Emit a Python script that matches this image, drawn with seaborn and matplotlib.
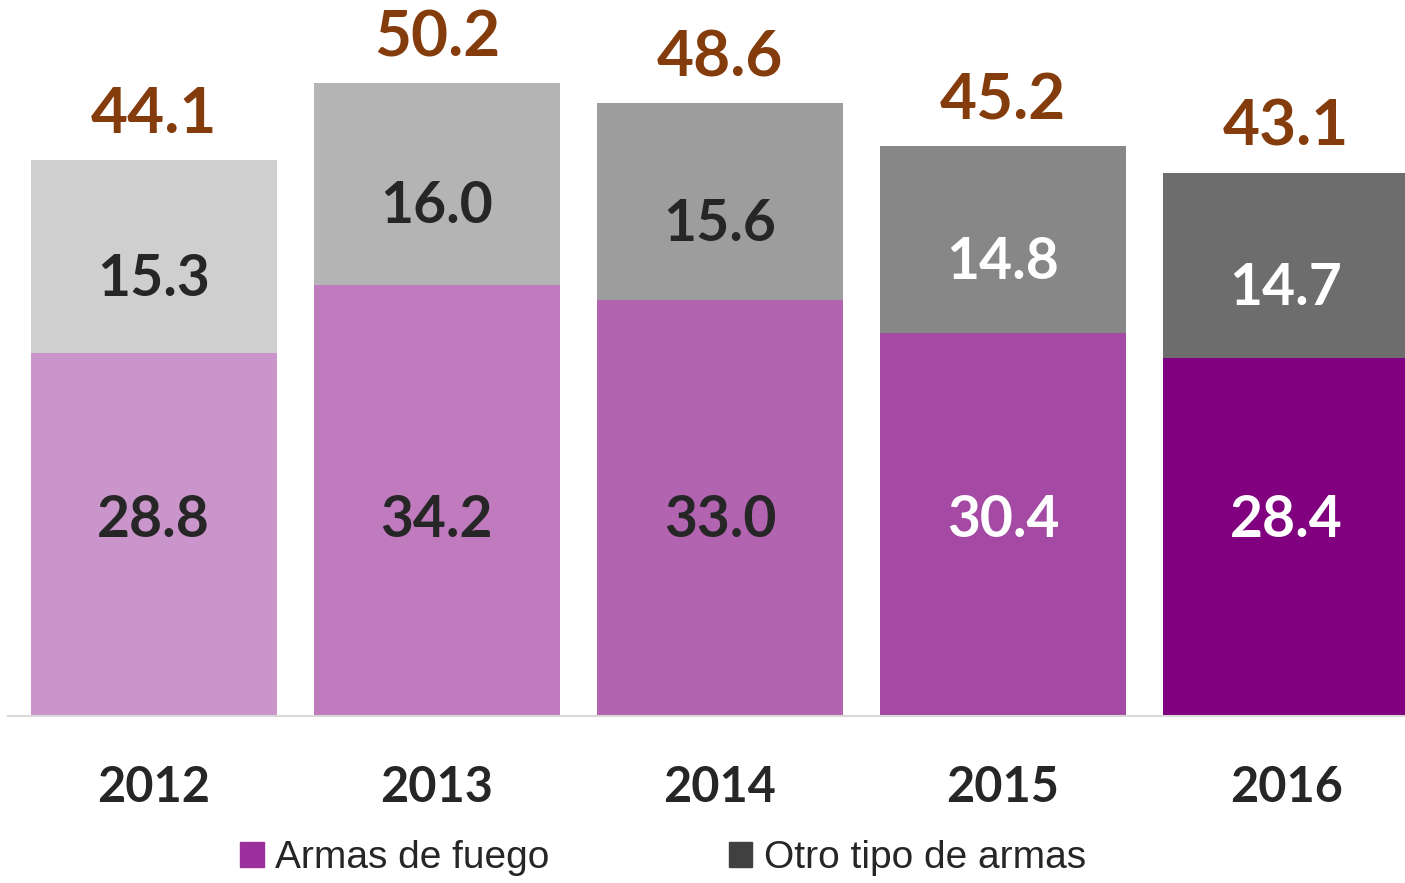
import numpy as np
import pandas as pd
import matplotlib
matplotlib.use("Agg")
import matplotlib.pyplot as plt
import seaborn as sns
from matplotlib.patches import Patch

years = ["2012", "2013", "2014", "2015", "2016"]
armas_fuego = [28.8, 34.2, 33.0, 30.4, 28.4]
otro_tipo = [15.3, 16.0, 15.6, 14.8, 14.7]
totales = [44.1, 50.2, 48.6, 45.2, 43.1]

purples = ["#C995CA", "#BF7BBD", "#B264B1", "#A44AA4", "#800080"]
greys = ["#CFCFCF", "#B4B4B4", "#9D9D9D", "#878787", "#6D6D6D"]
text_cols = ["#262626", "#262626", "#262626", "white", "white"]

df = pd.DataFrame({"year": years, "fuego": armas_fuego, "otro": otro_tipo, "total": totales})
df["stack"] = df["fuego"] + df["otro"]

sns.set_theme(style="white")
plt.rcParams["font.family"] = ["Lato", "DejaVu Sans"]

fig = plt.figure(figsize=(14.05, 8.83), dpi=100)
ax = fig.add_axes([8 / 1405, 1 - 716 / 883, 1 - 8 / 1405, 716 / 883])

# grey bar = whole stack, purple bar drawn over the bottom part
sns.barplot(data=df, x="year", y="stack", hue="year", palette=greys, width=0.87,
            saturation=1, legend=False, linewidth=0, ax=ax)
sns.barplot(data=df, x="year", y="fuego", hue="year", palette=purples, width=0.87,
            saturation=1, legend=False, linewidth=0, ax=ax)

ax.set_xlim(-0.515, 4.42)
ax.set_ylim(0, 56.8)
ax.set_xlabel("")
ax.set_ylabel("")
ax.set_yticks([])
ax.set_xticks([])
for s in ["left", "right", "top"]:
    ax.spines[s].set_visible(False)
ax.spines["bottom"].set_color("#D9D9D9")
ax.spines["bottom"].set_linewidth(1.5)

for i in range(len(years)):
    f, o, t = df.loc[i, "fuego"], df.loc[i, "otro"], df.loc[i, "total"]
    ax.text(i, 15.5, f"{f:.1f}", ha="center", va="center", fontsize=41,
            fontweight="bold", color=text_cols[i])
    ax.text(i, f + o / 2 - 1.8, f"{o:.1f}", ha="center", va="center", fontsize=41,
            fontweight="bold", color=text_cols[i])
    ax.text(i, t + 3.6, f"{t:.1f}", ha="center", va="center", fontsize=46,
            fontweight="bold", color="#843C0C")
    ax.text(i, -5.7, years[i], ha="center", va="center", fontsize=35,
            fontweight="bold", color="#262626", clip_on=False)

handles = [Patch(color="#9B2F9B", label="Armas de fuego"),
           Patch(color="#404040", label="Otro tipo de armas")]
fig.legend(handles=handles, loc="center", bbox_to_anchor=(663 / 1405, 1 - 858 / 883),
           ncol=2, frameon=False, handlelength=0.6, handleheight=0.6, handletextpad=0.3,
           columnspacing=4.6, prop={"family": ["Liberation Sans Narrow", "Liberation Sans"], "size": 28})

fig.savefig("out.png", dpi=100)
